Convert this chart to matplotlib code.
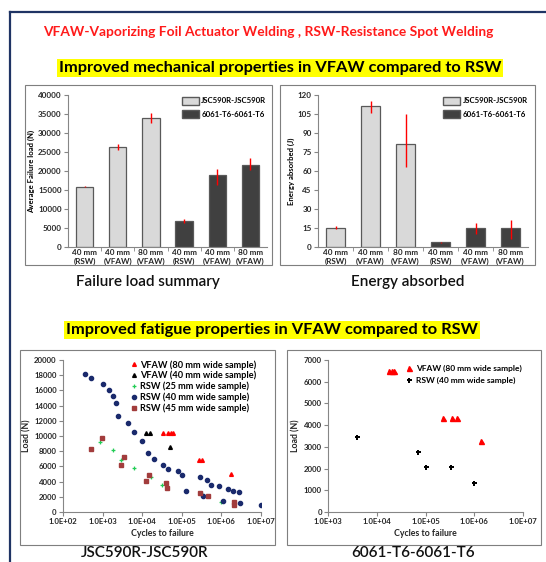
import matplotlib
matplotlib.use("Agg")
import matplotlib.pyplot as plt
from matplotlib.patches import Rectangle, Patch
from matplotlib.lines import Line2D

plt.rcParams['font.family'] = ['Lato', 'DejaVu Sans']

W, H = 546, 562
fig = plt.figure(figsize=(W / 100, H / 100), dpi=100)

def ax_px(x0, y0, x1, y1):
    return fig.add_axes([x0 / W, 1 - y1 / H, (x1 - x0) / W, (y1 - y0) / H])

def box_px(x0, y0, x1, y1, color="#7f7f7f", lw=0.8):
    fig.patches.append(Rectangle((x0 / W, 1 - y1 / H), (x1 - x0) / W, (y1 - y0) / H,
                                 transform=fig.transFigure, fill=False, edgecolor=color, lw=lw))

def ftext(x, y, s, **kw):
    fig.text(x / W, 1 - y / H, s, **kw)

# ---------------- data ----------------
categories = ["40 mm\n(RSW)", "40 mm\n(VFAW)", "80 mm\n(VFAW)", "40 mm\n(RSW)", "40 mm\n(VFAW)", "80 mm\n(VFAW)"]
material = ["JSC590R-JSC590R"] * 3 + ["6061-T6-6061-T6"] * 3
failure_load = [15900, 26200, 33850, 6860, 19050, 21550]
failure_load_err_low = [200, 700, 1300, 500, 2800, 1300]
failure_load_err_high = [200, 800, 1300, 450, 1350, 2000]
energy = [15, 111.5, 81, 3.7, 15, 15]
energy_err_low = [0.5, 5.5, 18.2, 0.4, 5, 8.7]
energy_err_high = [1.3, 4.1, 23.7, 0.4, 4, 6.1]

fl_ticks = [0, 5000, 10000, 15000, 20000, 25000, 30000, 35000, 40000]
en_ticks = [0, 15, 30, 45, 60, 75, 90, 105, 120]

xtick_labels_left = ["1.0E+02", "1.0E+03", "1.0E+04", "1.0E+05", "1.0E+06", "1.0E+07"]
xtick_labels_right = ["1.0E+03", "1.0E+04", "1.0E+05", "1.0E+06", "1.0E+07"]

# JSC590R fatigue
vfaw80_cyc = [33000, 44000, 52000, 60000, 266000, 333000, 1740000]
vfaw80_load = [10450, 10450, 10450, 10450, 6800, 6800, 5000]
vfaw40_cyc = [12800, 15800, 50400]
vfaw40_load = [10450, 10450, 8600]
rsw25_cyc = [850, 1860, 3000, 6050, 16300, 32000, 330000, 975000]
rsw25_load = [9200, 8100, 6900, 5800, 4600, 3500, 2400, 1300]
rsw40_cyc = [355, 500, 1000, 1440, 1780, 2150, 2380, 4500, 6200, 9800, 13700, 20000,
             33500, 44700, 78600, 104000, 129000, 283000, 353000, 430000, 540000,
             890000, 1070000, 1440000, 1920000, 2770000, 3000000, 10000000]
rsw40_load = [18200, 17600, 16900, 16100, 15300, 14300, 12600, 11700, 10550, 9300, 7800, 7000,
              6150, 5650, 5350, 4850, 2700, 4600, 2100, 4150, 3500,
              3400, 1500, 3000, 2750, 2650, 1250, 950]
rsw45_cyc = [500, 950, 2900, 3400, 12300, 14500, 40000, 43500, 290000, 465000, 2100000, 2100000]
rsw45_load = [8300, 9700, 6250, 7300, 4100, 4850, 3800, 3200, 2500, 2100, 1300, 900]

# 6061-T6 fatigue
al_vfaw80_cyc = [18000, 20300, 22700, 230000, 343000, 445000, 1360000]
al_vfaw80_load = [6500, 6500, 6500, 4350, 4350, 4350, 3250]
al_rsw40_cyc = [4000, 70500, 102000, 330000, 1000000]
al_rsw40_load = [3450, 2750, 2050, 2050, 1350]

LIGHT = "#d9d9d9"
DARK = "#404040"
EDGE = "#595959"
AXC = "#868686"

# ---------------- slide frame ----------------
fig.add_artist(Line2D([10 / W, 1], [1 - 12 / H, 1 - 12 / H], transform=fig.transFigure, color="#1f3464", lw=1.6))
fig.add_artist(Line2D([10 / W, 10 / W], [1 - 12 / H, 0], transform=fig.transFigure, color="#1f3464", lw=1.6))

# ---------------- headings ----------------
ftext(268, 32, "VFAW-Vaporizing Foil Actuator Welding , RSW-Resistance Spot Welding",
      ha="center", va="center", color="#ff1a1a", fontsize=9.9, fontweight="bold")
ftext(280, 68, "Improved mechanical properties in VFAW compared to RSW",
      ha="center", va="center", color="black", fontsize=11.8, fontweight="bold",
      bbox=dict(boxstyle="square,pad=0.1", facecolor="#ffff00", edgecolor="none"))
ftext(272, 330, "Improved fatigue properties in VFAW compared to RSW",
      ha="center", va="center", color="black", fontsize=11.8, fontweight="bold",
      bbox=dict(boxstyle="square,pad=0.1", facecolor="#ffff00", edgecolor="none"))

# ---------------- bar charts ----------------
def bar_panel(ax, vals, err_lo, err_hi, ticks, ylabel):
    cols = [LIGHT if m == material[0] else DARK for m in material]
    x = list(range(len(categories)))
    ax.bar(x, vals, width=0.52, color=cols, edgecolor=EDGE, linewidth=0.9, zorder=2)
    ax.errorbar(x, vals, yerr=[err_lo, err_hi], fmt="none", ecolor="#ff0000", elinewidth=1.0, capsize=0, zorder=3)
    ax.set_xlim(-0.5, len(categories) - 0.5)
    ax.set_ylim(ticks[0], ticks[-1])
    ax.set_yticks(ticks)
    ax.set_yticklabels([str(t) for t in ticks], fontsize=5.8, fontweight="bold", color="#262626")
    ax.set_xticks(x)
    ax.set_xticklabels(categories, fontsize=5.9, fontweight="bold", color="#262626", linespacing=1.25)
    ax.set_xticks([i + 0.5 for i in x[:-1]], minor=True)
    ax.tick_params(axis="x", which="major", length=0, pad=1.5)
    ax.tick_params(axis="x", which="minor", length=3, color=AXC)
    ax.tick_params(axis="y", length=3, color=AXC, pad=1.5, direction="out")
    for s in ["top", "right"]:
        ax.spines[s].set_visible(False)
    for s in ["left", "bottom"]:
        ax.spines[s].set_color(AXC)
        ax.spines[s].set_linewidth(0.8)
    ax.set_ylabel(ylabel, fontsize=5.6, fontweight="bold", labelpad=2)
    handles = [Patch(facecolor=LIGHT, edgecolor=EDGE, label=material[0]),
               Patch(facecolor=DARK, edgecolor=EDGE, label=material[3])]
    ax.legend(handles=handles, loc="upper right", bbox_to_anchor=(1.02, 1.02), frameon=False,
              prop={"size": 5.6, "weight": "bold"}, handlelength=2.2, handleheight=1.3,
              handletextpad=0.3, labelspacing=0.6, borderaxespad=0.2)

ax1 = ax_px(68, 95, 267, 247)
bar_panel(ax1, failure_load, failure_load_err_low, failure_load_err_high, fl_ticks, "Average Failure load (N)")
ax2 = ax_px(318, 95, 528, 247)
bar_panel(ax2, energy, energy_err_low, energy_err_high, en_ticks, "Energy absorbed (J)")

box_px(25, 85, 272, 265)
box_px(280, 85, 535, 265)
ftext(148, 282, "Failure load summary", ha="center", va="center", fontsize=11, fontweight="semibold", color="#111111")
ftext(408, 282, "Energy absorbed", ha="center", va="center", fontsize=11, fontweight="semibold", color="#111111")

# ---------------- scatter charts ----------------
def scatter_style(ax, xticklabels, yticks):
    ax.set_xscale("log")
    n0 = int(xticklabels[0][-2:])
    n1 = int(xticklabels[-1][-2:])
    xt = [10.0 ** k for k in range(n0, n1 + 1)]
    ax.set_xlim(xt[0], xt[-1])
    ax.set_xticks(xt)
    ax.set_xticklabels(xticklabels, fontsize=5.6, fontweight="bold", color="#262626")
    ax.xaxis.set_minor_locator(matplotlib.ticker.NullLocator())
    ax.set_ylim(yticks[0], yticks[-1])
    ax.set_yticks(yticks)
    ax.set_yticklabels([str(t) for t in yticks], fontsize=5.6, fontweight="bold", color="#262626")
    ax.tick_params(axis="both", length=3, color=AXC, pad=1.5, direction="out")
    for s in ["top", "right"]:
        ax.spines[s].set_visible(False)
    for s in ["left", "bottom"]:
        ax.spines[s].set_color(AXC)
        ax.spines[s].set_linewidth(0.8)
    ax.set_xlabel("Cycles to failure", fontsize=6.3, fontweight="bold", labelpad=3, color="#262626")
    ax.set_ylabel("Load (N)", fontsize=6.3, fontweight="bold", labelpad=2, color="#262626")

ax3 = ax_px(63, 360, 261, 512)
ax3.plot(vfaw80_cyc, vfaw80_load, ls="none", marker="^", ms=2.7, color="#ff0000", label="VFAW (80 mm wide sample)")
ax3.plot(vfaw40_cyc, vfaw40_load, ls="none", marker="^", ms=2.7, color="black", label="VFAW (40 mm wide sample)")
ax3.plot(rsw25_cyc, rsw25_load, ls="none", marker="P", ms=2.8, color="#22cc55", markeredgewidth=0, label="RSW (25 mm wide sample)")
ax3.plot(rsw40_cyc, rsw40_load, ls="none", marker="o", ms=3.0, color="#1a2a6c", label="RSW (40 mm wide sample)")
ax3.plot(rsw45_cyc, rsw45_load, ls="none", marker="s", ms=3.2, color="#a23c3c", label="RSW (45 mm wide sample)")
scatter_style(ax3, xtick_labels_left, [0, 2000, 4000, 6000, 8000, 10000, 12000, 14000, 16000, 18000, 20000])
ax3.legend(loc="upper right", bbox_to_anchor=(1.0, 1.03), frameon=False, prop={"size": 6.6, "weight": "bold"},
           handlelength=0.8, handletextpad=0.3, labelspacing=0.15, borderaxespad=0.1, markerscale=1.0)

ax4 = ax_px(328, 360, 523, 512)
ax4.plot(al_vfaw80_cyc, al_vfaw80_load, ls="none", marker="^", ms=3.6, color="#ff0000", label="VFAW (80 mm wide sample)")
ax4.plot(al_rsw40_cyc, al_rsw40_load, ls="none", marker="P", ms=3.6, color="black", markeredgewidth=0, label="RSW (40 mm wide sample)")
scatter_style(ax4, xtick_labels_right, [0, 1000, 2000, 3000, 4000, 5000, 6000, 7000])
ax4.legend(loc="upper right", bbox_to_anchor=(1.02, 1.0), frameon=False, prop={"size": 6.0, "weight": "bold"},
           handlelength=1.0, handletextpad=0.4, labelspacing=0.6, borderaxespad=0.2)

box_px(20, 350, 275, 545)
box_px(287, 350, 541, 545)
ftext(145, 553, "JSC590R-JSC590R", ha="center", va="center", fontsize=11, fontweight="semibold", color="#111111")
ftext(413, 553, "6061-T6-6061-T6", ha="center", va="center", fontsize=11, fontweight="semibold", color="#111111")

fig.savefig("out.png", dpi=100)
